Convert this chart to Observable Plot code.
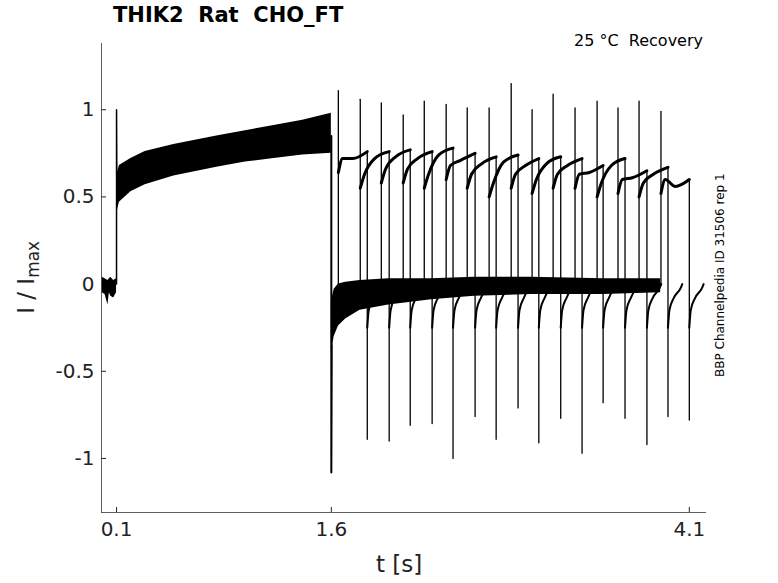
<!DOCTYPE html>
<html><head><meta charset="utf-8">
<script src="https://cdn.jsdelivr.net/npm/d3@7"></script>
<script src="https://cdn.jsdelivr.net/npm/@observablehq/plot@0.6"></script>
<style>
body{margin:0;background:#fff;font-family:"DejaVu Sans",sans-serif;}
#wrap{position:relative;width:778px;height:583px;}
.t{position:absolute;white-space:nowrap;color:#000;}
</style></head><body>
<div id="wrap"></div>
<script>
const xTicks = [0.1, 1.6, 4.1];
const yTicks = [-1, -0.5, 0, 0.5, 1];
// pre-step baseline
const preT = [0, 0.02, 0.04, 0.05, 0.06, 0.08, 0.1];
const preLo = [-0.05, -0.06, -0.12, -0.05, -0.07, -0.08, -0.05];
const preHi = [0.04, 0.03, 0.02, 0.03, 0.04, 0.02, 0.03];
// activation band (0.1 - 1.6 s)
const actT = [0.1, 0.12, 0.2, 0.3, 0.5, 0.8, 1.0, 1.2, 1.4, 1.6];
const actLo = [0.4, 0.47, 0.53, 0.57, 0.62, 0.67, 0.7, 0.72, 0.74, 0.75];
const actHi = [0.62, 0.68, 0.72, 0.76, 0.8, 0.85, 0.88, 0.91, 0.94, 0.98];
// post-step baseline band (1.6 - 3.9 s)
const postT = [1.6, 1.62, 1.65, 1.7, 1.8, 2.0, 2.3, 2.6, 3.0, 3.5, 3.9];
const postLo = [-0.4, -0.3, -0.24, -0.2, -0.15, -0.12, -0.09, -0.07, -0.06, -0.06, -0.05];
const postHi = [-0.1, -0.03, 0.0, 0.01, 0.02, 0.03, 0.03, 0.04, 0.04, 0.03, 0.03];
// test pulses of each sweep
const upT = [1.649, 1.802, 1.949, 2.102, 2.249, 2.402, 2.549, 2.702, 2.856, 3.002, 3.149, 3.302, 3.456, 3.602, 3.749, 3.902];
const downT = [1.851, 2.004, 2.151, 2.304, 2.450, 2.604, 2.751, 2.904, 3.049, 3.202, 3.351, 3.498, 3.651, 3.804, 3.951, 4.100];
const peak = [1.11, 1.06, 1.04, 0.97, 1.05, 1.03, 1.01, 1.01, 1.15, 1.0, 1.09, 1.01, 1.05, 1.01, 1.05, 0.99];
const trough = [-0.89, -0.90, -0.81, -0.80, -1.0, -0.76, -0.89, -0.71, -0.91, -0.77, -0.97, -0.68, -0.77, -0.92, -0.76, -0.78];
const plStart = [0.64, 0.55, 0.58, 0.58, 0.55, 0.6, 0.55, 0.5, 0.55, 0.52, 0.55, 0.55, 0.5, 0.52, 0.5, 0.52];
const plEnd = [0.76, 0.76, 0.77, 0.76, 0.78, 0.75, 0.73, 0.74, 0.72, 0.73, 0.72, 0.68, 0.72, 0.65, 0.67, 0.6];

const band = (T, L, H) => T.map((t, i) => ({t, lo: L[i], hi: H[i]}));
const spikes = [], plats = [], tails = [];
upT.forEach((u, i) => {
  const d = downT[i];
  const end = Math.max(3.9, d + 0.1);
  spikes.push({s: i, t: u, v: 0.0}, {s: i, t: u, v: peak[i]});
  spikes.push({s: i + 100, t: d, v: plEnd[i]}, {s: i + 100, t: d, v: trough[i]});
  [[u, plStart[i]], [u + 0.03, plStart[i] + 0.08], [u + 0.1, plEnd[i] - 0.04], [d, plEnd[i]]]
    .forEach(([t, v]) => plats.push({s: i, t, v}));
  [[d, -0.25], [d + 0.01, -0.15], [d + 0.04, -0.08], [d + 0.09, -0.02], [end, 0.0]]
    .forEach(([t, v]) => tails.push({s: i, t, v}));
});
const common = [{t: 0.1, v: 0.0}, {t: 0.1, v: 1.0}, {t: 0.103, v: 0.45}];
const drop = [{t: 1.6, v: 0.85}, {t: 1.6, v: -1.08}, {t: 1.603, v: -0.35}];

const plot = Plot.plot({
  width: 778, height: 583,
  marginLeft: 101, marginRight: 72, marginTop: 43, marginBottom: 71,
  style: {fontFamily: "DejaVu Sans", fontSize: "20px", color: "#222"},
  x: {domain: [-0.005, 4.22], ticks: xTicks, tickFormat: d => String(d), label: null, tickSize: -5},
  y: {domain: [-1.31, 1.38], ticks: yTicks, tickFormat: d => String(d), label: null, tickSize: -5, tickPadding: 12},
  marks: [
    Plot.areaY(band(preT, preLo, preHi), {x: "t", y1: "lo", y2: "hi", fill: "#000"}),
    Plot.areaY(band(actT, actLo, actHi), {x: "t", y1: "lo", y2: "hi", fill: "#000"}),
    Plot.areaY(band(postT, postLo, postHi), {x: "t", y1: "lo", y2: "hi", fill: "#000"}),
    Plot.line(common, {x: "t", y: "v", stroke: "#000", strokeWidth: 1.5}),
    Plot.line(drop, {x: "t", y: "v", stroke: "#000", strokeWidth: 2}),
    Plot.line(spikes, {x: "t", y: "v", z: "s", stroke: "#000", strokeWidth: 1.3}),
    Plot.line(plats, {x: "t", y: "v", z: "s", stroke: "#000", strokeWidth: 3, curve: "monotone-x"}),
    Plot.line(tails, {x: "t", y: "v", z: "s", stroke: "#000", strokeWidth: 2, curve: "monotone-x"}),
    Plot.ruleX([-0.005], {stroke: "#333", strokeWidth: 0.8}),
    Plot.ruleY([-1.31], {stroke: "#333", strokeWidth: 0.8})
  ]
});
const wrap = document.getElementById("wrap");
wrap.appendChild(plot);
plot.style.position = "absolute"; plot.style.left = "0"; plot.style.top = "0";
const add = (html, css) => { const d = document.createElement("div"); d.className = "t"; d.innerHTML = html; Object.assign(d.style, css); wrap.appendChild(d); };
add("THIK2&nbsp; Rat&nbsp; CHO_FT", {left: "113px", top: "3px", fontSize: "21px", fontWeight: "bold"});
add("25 °C&nbsp; Recovery", {right: "75px", top: "31px", fontSize: "16px"});
add("t [s]", {left: "376px", top: "551px", fontSize: "23px", color: "#222"});
add("I / I<sub style='font-size:17px'>max</sub>", {left: "-22px", top: "262px", fontSize: "23px", color: "#222", transform: "rotate(-90deg)", width: "100px", textAlign: "center"});
add("BBP Channelpedia ID 31506 rep 1", {left: "620px", top: "270px", fontSize: "12px", transform: "rotate(-90deg)", width: "200px", textAlign: "center"});
</script></body></html>
